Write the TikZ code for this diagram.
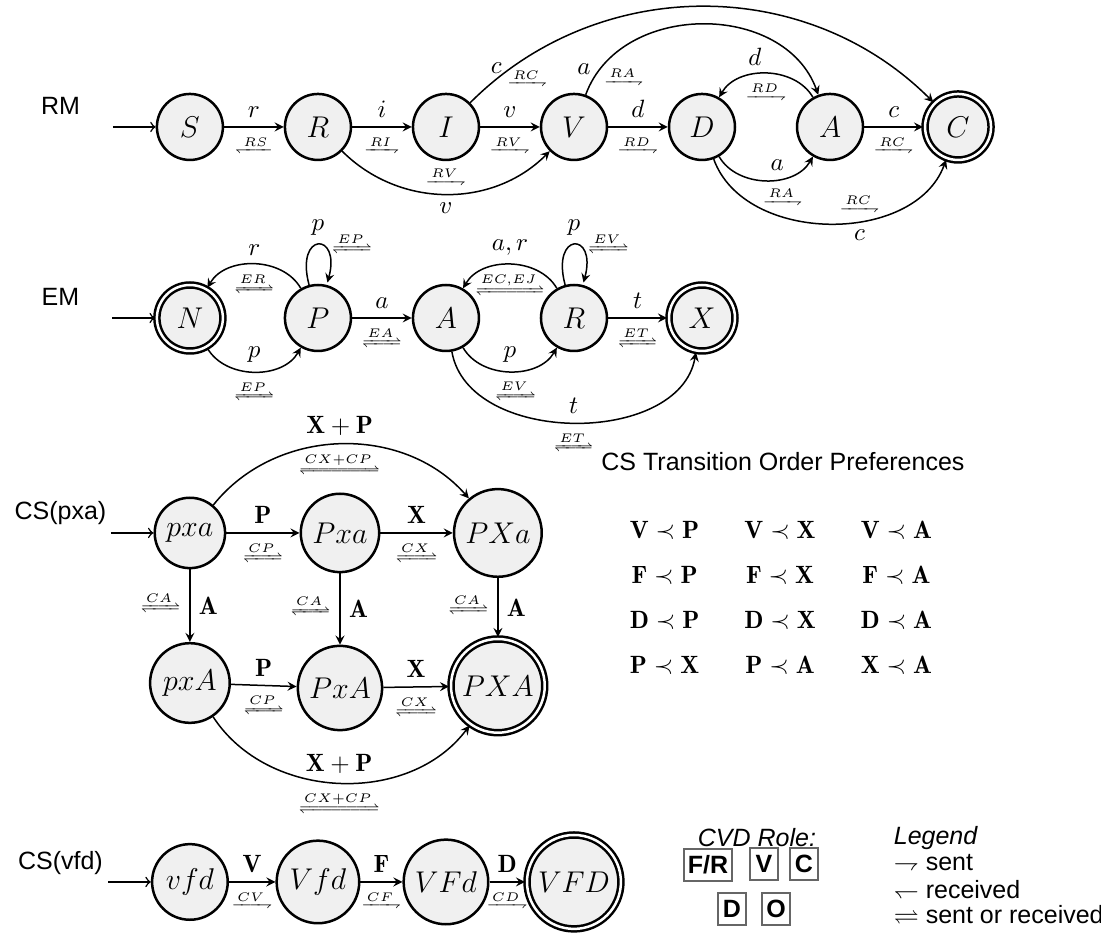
\documentclass[tikz,border=0pt]{standalone}
\usepackage{amsmath,amssymb,mathtools}
\usepackage{fontspec}
\setsansfont{Liberation Sans}
\usepackage{tikz}
\usetikzlibrary{automata,positioning}
\newcommand*{\snd}[1]{{\tiny$\xrightharpoondown{#1}$}}
\newcommand*{\rcv}[1]{{\tiny$\xleftharpoondown{#1}$}}
\newcommand*{\snr}[1]{{\tiny$\xrightleftharpoons{#1}$}}
\tikzset{
  every state/.style={draw,line width=1pt,fill=black!6,minimum size=26.4pt,inner sep=3pt,font=\large},
  final/.style={accepting,double distance=1pt},
  every initial by arrow/.style={-to},
  lbl/.style={font=\sffamily},
  role/.style={draw=black!60,line width=.8pt,font=\sffamily\bfseries,minimum width=11.5pt,minimum height=12.5pt,inner sep=1.5pt},
}

\begin{document}
\begin{tikzpicture}[>=stealth,semithick,node distance=1.8cm,on grid,auto,initial text=,initial distance=.6cm]
    \useasboundingbox (0,0) rectangle (15.48,-13.17);
    % RM
    \node[lbl] (rm) at (.85,-1.49) {RM};
    \node[state,initial] (rS) at (2.67,-1.785) {$S$};
    \node[state] (rR) [right=of rS] {$R$};
    \node[state] (rI) [right=of rR] {$I$};
    \node[state] (rV) [right=of rI] {$V$};
    \node[state] (rD) [right=of rV] {$D$};
    \node[state] (rA) [right=of rD] {$A$};
    \node[state,final] (rC) [right=of rA] {$C$};
    \path[->]
    (rS)
    edge node [above] {$r$} node [below] {\rcv{RS}} (rR)
    (rR)
    edge node [above] {$i$} node [below] {\snd{RI}} (rI)
    edge [bend right=45] node [above] {\snd{RV}} node [below] {$v$} (rV)
    (rI)
    edge node [above] {$v$} node [below] {\snd{RV}} (rV)
    edge [bend left=45] node [pos=.1,left] {$c$} node [pos=.07,right] {\snd{RC}} (rC)
    (rV)
    edge node [above] {$d$} node [below] {\snd{RD}} (rD)
    edge [bend left=70,looseness=1.1] node [pos=.1,left] {$a$} node [pos=.07,right] {\snd{RA}} (rA)
    (rD)
    edge [bend right=60] node [pos=.6,above] {$a$} node [pos=.65,below] {\snd{RA}} (rA)
    edge [bend right=70] node [pos=.6,above] {\snd{RC}} node [pos=.6,below] {$c$} (rC)
    (rA)
    edge [bend right=60] node [pos=.6,above] {$d$} node [below] {\snd{RD}} (rD)
    edge node [above] {$c$} node [below] {\snd{RC}} (rC)
    ;
    % EM
    \node[lbl] (em) at (.85,-4.175) {EM};
    \node[state,initial,final] (eN) at (2.67,-4.471) {$N$};
    \node[state] (eP) [right=of eN] {$P$};
    \node[state] (eA) [right=of eP] {$A$};
    \node[state] (eR) [right=of eA] {$R$};
    \node[state,final] (eX) [right=of eR] {$X$};
    \path[->]
    (eN)
    edge [bend right=60] node [above] {$p$} node [below] {\snr{EP}} (eP)
    (eP)
    edge [bend right=60] node [above] {$r$} node [below] {\snr{ER}} (eN)
    edge [loop above] node [above] {$p$} node [pos=.6,right] {\snr{EP}} ()
    edge node [above] {$a$} node [below] {\snr{EA}} (eA)
    (eA)
    edge [bend right=60] node [above] {$p$} node [pos=.55,below] {\snr{EV}} (eR)
    edge [bend right=80] node [above] {$t$} node [below] {\snr{ET}} (eX)
    (eR)
    edge [bend right=60] node [above] {$a,r$} node [below] {\snr{EC,EJ}} (eA)
    edge [loop above] node [above] {$p$} node [pos=.6,right] {\snr{EV}} ()
    edge node [above] {$t$} node [below] {\snr{ET}} (eX)
    ;
    % CS(pxa)
    \node[lbl] (cpxa) at (.85,-7.212) {CS(pxa)};
    \node[state,initial] (pxa) at (2.67,-7.493) {$pxa$};
    \node[state] (Pxa) [right=2.11cm of pxa] {$Pxa$};
    \node[state] (PXa) [right=2.22cm of Pxa] {$PXa$};
    \node[state] (pxA) [below=2.11cm of pxa] {$pxA$};
    \node[state] (PxA) [below=2.18cm of Pxa] {$PxA$};
    \node[state,final] (PXA) [below=2.15cm of PXa] {$PXA$};
    \path[->]
    (pxa)
    edge node [above] {$\mathbf{P}$} node [below] {\snr{CP}} (Pxa)
    edge [bend left=50] node [above] {$\mathbf{X}+\mathbf{P}$} node [below] {\snr{CX+CP}} (PXa)
    edge node [left] {\snr{CA}} node [right] {$\mathbf{A}$} (pxA)
    (Pxa)
    edge node [above] {$\mathbf{X}$} node [below] {\snr{CX}} (PXa)
    edge node [left] {\snr{CA}} node [right] {$\mathbf{A}$} (PxA)
    (PXa)
    edge node [left] {\snr{CA}} node [right] {$\mathbf{A}$} (PXA)
    (pxA)
    edge node [above] {$\mathbf{P}$} node [below] {\snr{CP}} (PxA)
    edge [bend right=55] node [above] {$\mathbf{X}+\mathbf{P}$} node [below] {\snr{CX+CP}} (PXA)
    (PxA)
    edge node [above] {$\mathbf{X}$} node [below] {\snr{CX}} (PXA)
    ;
    % CS(vfd)
    \node[lbl] (cvfd) at (.85,-12.133) {CS(vfd)};
    \node[state,initial] (vfd) at (2.67,-12.4) {$vfd$};
    \node[state] (Vfd) [right=of vfd] {$Vfd$};
    \node[state] (VFd) [right=of Vfd] {$VFd$};
    \node[state,final] (VFD) [right=of VFd] {$VFD$};
    \path[->]
    (vfd) edge node [above] {$\mathbf{V}$} node [below] {\snd{CV}} (Vfd)
    (Vfd) edge node [above] {$\mathbf{F}$} node [below] {\snd{CF}} (VFd)
    (VFd) edge node [above] {$\mathbf{D}$} node [below] {\snd{CD}} (VFD)
    ;
    % preferences
    \node[font=\sffamily] (ttl) at (11.008,-6.495) {CS Transition Order Preferences};
    \node (prefs) at (10.98,-8.435) {\setlength{\arraycolsep}{9pt}$\begin{array}{ccc}
      \mathbf{V}\prec\mathbf{P} & \mathbf{V}\prec\mathbf{X} & \mathbf{V}\prec\mathbf{A}\\[6pt]
      \mathbf{F}\prec\mathbf{P} & \mathbf{F}\prec\mathbf{X} & \mathbf{F}\prec\mathbf{A}\\[6pt]
      \mathbf{D}\prec\mathbf{P} & \mathbf{D}\prec\mathbf{X} & \mathbf{D}\prec\mathbf{A}\\[6pt]
      \mathbf{P}\prec\mathbf{X} & \mathbf{P}\prec\mathbf{A} & \mathbf{X}\prec\mathbf{A}
    \end{array}$};
    % CVD role
    \node[font=\sffamily\itshape] (cvd) at (10.643,-11.781) {CVD Role:};
    \node[role] (fr) at (9.954,-12.161) {F/R};
    \node[role] (rv) at (10.741,-12.147) {V};
    \node[role] (rc) at (11.303,-12.147) {C};
    \node[role] (rd) at (10.291,-12.78) {D};
    \node[role] (ro) at (10.91,-12.78) {O};
    % legend
    \node[font=\sffamily\itshape,anchor=west] (leg) at (12.44,-11.781) {Legend};
    \node[font=\sffamily,anchor=west] (lsnt) at (12.44,-12.133) {$\rightharpoondown$ sent};
    \node[font=\sffamily,anchor=west] (lrcv) at (12.44,-12.513) {$\leftharpoondown$ received};
    \node[font=\sffamily,anchor=west] (lsnr) at (12.44,-12.864) {$\rightleftharpoons$ sent or received};
\end{tikzpicture}
\end{document}
